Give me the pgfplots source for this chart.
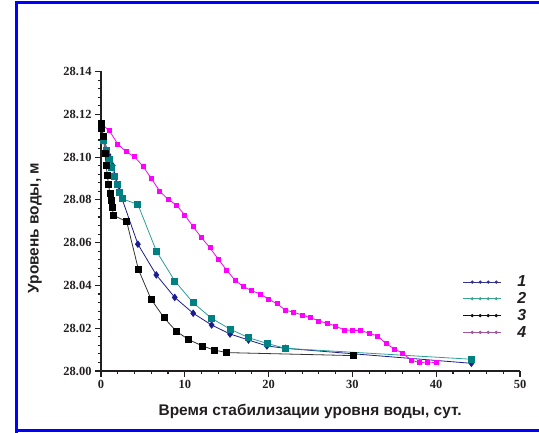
\documentclass[border=0pt]{standalone}
\usepackage{fontspec}
\setmainfont{Liberation Serif}
\newfontfamily\arialfont{Liberation Sans}
\usepackage{pgfplots}
\pgfplotsset{compat=1.18}
\definecolor{navyc}{HTML}{1C1C8E}
\definecolor{tealc}{HTML}{008080}
\definecolor{teall}{HTML}{2A9E9A}
\definecolor{magc}{HTML}{FF00FF}
\definecolor{txt}{HTML}{231F20}
\definecolor{leg1}{HTML}{33338F}
\definecolor{leg2}{HTML}{3AA58F}
\definecolor{leg3}{HTML}{111111}
\definecolor{leg4}{HTML}{A0559F}
\begin{document}
\begin{tikzpicture}
\useasboundingbox (0,0) rectangle (539bp,433bp);
\draw[blue, line width=2.2bp] (16.5bp,0bp) -- (16.5bp,430.5bp) -- (545bp,430.5bp);
\draw[blue, line width=2.2bp] (16.5bp,2.5bp) -- (545bp,2.5bp);
\begin{axis}[
  at={(101bp,62bp)}, anchor=south west,
  width=419bp, height=299.5bp, scale only axis,
  xmin=0, xmax=50, ymin=28.00, ymax=28.14,
  axis lines=left, axis line style={-, line width=1.3bp, txt},
  tick align=outside, tick style={line width=1.1bp, txt},
  major tick length=6bp, minor tick length=3.5bp,
  xtick={0,10,20,30,40,50}, minor x tick num=4,
  ytick={28.00,28.02,28.04,28.06,28.08,28.10,28.12,28.14}, minor y tick num=4,
  /pgf/number format/assume math mode=true,
  tick label style={font=\bfseries\fontsize{12.5}{12.5}\selectfont, text=txt},
  yticklabel style={/pgf/number format/.cd, fixed, fixed zerofill, precision=2, 1000 sep={}},
  xticklabel style={/pgf/number format/.cd, fixed, precision=0},
  xlabel={Время стабилизации уровня воды, сут.},
  ylabel={Уровень воды, м},
  label style={font=\arialfont\bfseries\fontsize{15.5}{18}\selectfont, text=txt},
  xlabel style={at={(axis description cs:0.499,-0.134)}, anchor=center},
  ylabel style={at={(axis description cs:-0.158,0.477)}, anchor=center},
  clip=false,
  legend style={at={(axis description cs:0.863,0.325)}, anchor=north west, draw=none, fill=none,
    font=\arialfont\bfseries\itshape\fontsize{16}{16}\selectfont, text=txt,
    row sep=0.2bp, inner sep=0pt},
  legend cell align=left,
]
% series 4 (magenta)
\addplot[magc, line width=0.8bp, mark=square*, mark size=2bp, mark options={fill=magc, draw=magc}, forget plot] coordinates {
(0,28.1157)(1,28.1123)(2,28.1061)(3,28.1025)(4,28.1001)(5,28.0958)(6,28.0900)(7,28.0841)
(8,28.0802)(9,28.0776)(10,28.0729)(11,28.0674)(12,28.0623)(13,28.0576)(14,28.0522)
(15,28.0471)(16,28.0424)(17,28.0394)(18,28.0375)(19,28.0360)(20,28.0336)(21,28.0314)
(22,28.0285)(23,28.0274)(24,28.0262)(25,28.0249)(26,28.0234)(27,28.0223)(28,28.0210)
(29,28.0192)(30,28.0190)(31,28.0190)(32,28.0176)(33,28.0164)(34,28.0129)(35,28.0103)
(36,28.0083)(37,28.0051)(38,28.0039)(39,28.0042)(40,28.0039)};
% series 1 (navy)
\addplot[navyc, line width=0.8bp, mark=diamond*, mark size=3.2bp, mark options={fill=navyc, draw=navyc}, forget plot] coordinates {
(0,28.1157)(0.4,28.1080)(0.9,28.1010)(1.4,28.0960)(2.2,28.0840)(4.4,28.0593)(6.6,28.0449)
(8.8,28.0344)(11.0,28.0270)(13.2,28.0215)(15.4,28.0173)(17.6,28.0145)(19.8,28.0117)
(22.0,28.0106)(44.2,28.0036)};
% series 2 (teal)
\addplot[teall, line width=0.8bp, mark=square*, mark size=3bp, mark options={fill=tealc, draw=tealc}, forget plot] coordinates {
(0,28.1157)(0.3,28.1080)(0.7,28.1030)(1.0,28.0990)(1.3,28.0950)(1.6,28.0910)(1.9,28.0870)
(2.2,28.0835)(2.5,28.0805)(4.4,28.0779)(6.6,28.0561)(8.8,28.0421)(11.0,28.0319)
(13.2,28.0246)(15.4,28.0196)(17.6,28.0156)(19.8,28.0129)(22.0,28.0106)(44.2,28.0055)};
% series 3 (black)
\addplot[black!80, line width=0.8bp, mark=square*, mark size=3bp, mark options={fill=black, draw=black}, forget plot] coordinates {
(0,28.1157)(0.08,28.1134)(0.28,28.1095)(0.48,28.1017)(0.6,28.0963)(0.76,28.0916)
(0.88,28.0874)(1.07,28.0830)(1.27,28.0796)(1.35,28.0763)(1.47,28.0728)(3.07,28.0698)
(4.46,28.0475)(5.97,28.0336)(7.52,28.0249)(8.95,28.0187)(10.4,28.0148)(12.1,28.0117)
(13.5,28.0098)(15.0,28.0086)(30.1,28.0072)};
% legend
\addlegendimage{legend image code/.code={\draw[leg1, line width=0.9bp] (0bp,0bp) -- (38bp,0bp);
  \foreach \xx in {9,17,25,33}{\fill[leg1] (\xx bp,0bp) circle (1.4bp);} \path (52bp,0bp);}}
\addlegendentry{1}
\addlegendimage{legend image code/.code={\draw[leg2, line width=0.9bp] (0bp,0bp) -- (38bp,0bp);
  \foreach \xx in {9,17,25,33}{\fill[leg2] (\xx bp,0bp) circle (1.4bp);} \path (52bp,0bp);}}
\addlegendentry{2}
\addlegendimage{legend image code/.code={\draw[leg3, line width=0.9bp] (0bp,0bp) -- (38bp,0bp);
  \foreach \xx in {9,17,25,33}{\fill[leg3] (\xx bp,0bp) circle (1.4bp);} \path (52bp,0bp);}}
\addlegendentry{3}
\addlegendimage{legend image code/.code={\draw[leg4, line width=0.9bp] (0bp,0bp) -- (38bp,0bp);
  \foreach \xx in {9,17,25,33}{\fill[leg4] (\xx bp,0bp) circle (1.4bp);} \path (52bp,0bp);}}
\addlegendentry{4}
\end{axis}
\end{tikzpicture}
\end{document}
